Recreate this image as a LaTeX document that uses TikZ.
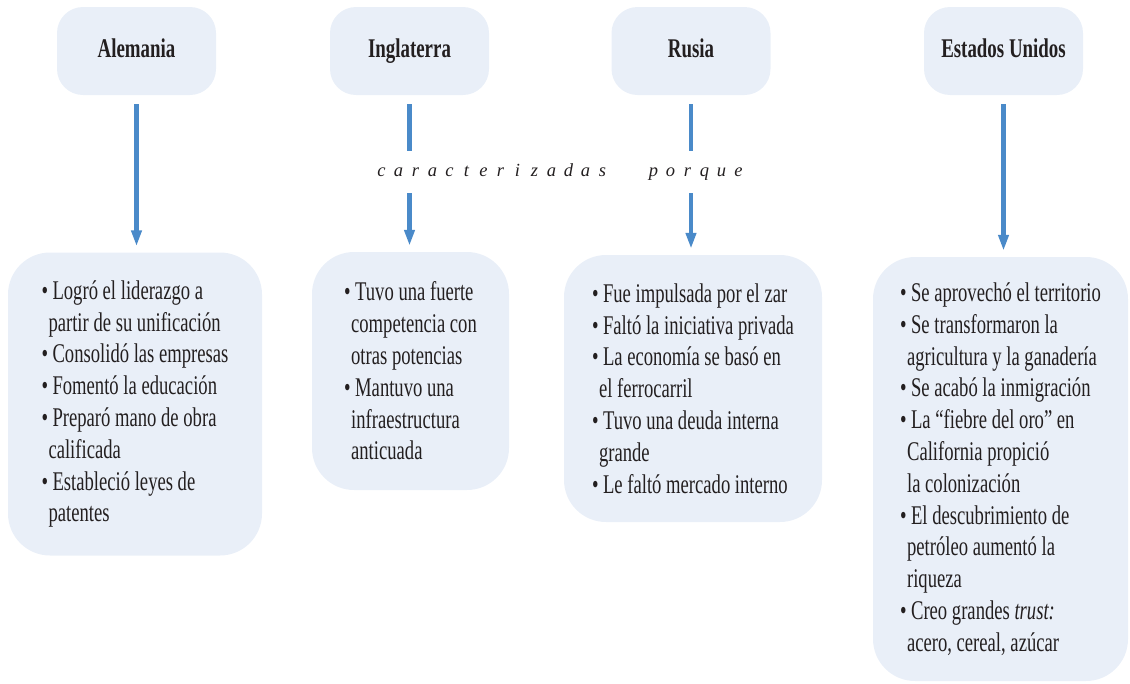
\documentclass[tikz,border=0pt]{standalone}
\usepackage{fontspec}
\setmainfont{Liberation Serif}
\newfontfamily\bodyfont[FakeStretch=0.69]{Liberation Serif}
\newfontfamily\headfont[FakeStretch=0.70]{Liberation Serif}
\usetikzlibrary{arrows.meta}
\definecolor{boxfill}{RGB}{233,239,248}
\definecolor{arrowblue}{RGB}{74,138,201}
\definecolor{txtcol}{RGB}{35,31,32}
\newcommand\spreadletters[1]{\spreadaux#1\relax}
\def\spreadaux#1{\ifx\relax#1\else\makebox[17pt]{#1}\expandafter\spreadaux\fi}
\newcommand\bul{\textbullet\,}
\newcommand\cont{\hspace*{7pt}}
\begin{document}
\begin{tikzpicture}[x=1pt,y=-1pt,
  head/.style={fill=boxfill, rounded corners=26pt, minimum width=159pt, minimum height=88pt, inner sep=0pt, text=txtcol, text height=18pt, text depth=6pt, font=\headfont\fontsize{27pt}{30pt}\selectfont\bfseries},
  body/.style={fill=boxfill, rounded corners=42pt, inner sep=0pt, align=left, text=txtcol, font=\bodyfont\fontsize{27pt}{31.8pt}\selectfont},
  conn/.style={draw=arrowblue, line width=4.3pt, -{Triangle[length=16pt,width=10pt]}, shorten <=9pt, shorten >=6pt},
  seg/.style={draw=arrowblue, line width=4.3pt},
  lbl/.style={text=txtcol, font=\fontsize{18.5pt}{20pt}\selectfont\itshape, inner xsep=0pt, inner ysep=13pt, text height=12pt, text depth=4pt}
]
\useasboundingbox (0,0) rectangle (1130,683);

% top boxes
\node[head] (ale) at (136.5,51) {Alemania};
\node[head] (ing) at (409.5,51) {Inglaterra};
\node[head] (rus) at (691,51) {Rusia};
\node[head] (eu)  at (1003.5,51) {Estados Unidos};

% bottom boxes
\node[body, minimum width=254pt, minimum height=303pt] (aleb) at (135,404) {%
\bul Logró el liderazgo a\\
\cont partir de su unificación\\
\bul Consolidó las empresas\\
\bul Fomentó la educación\\
\bul Preparó mano de obra\\
\cont calificada\\
\bul Estableció leyes de\\
\cont patentes};

\node[body, minimum width=197pt, minimum height=238pt] (ingb) at (410.5,371) {%
\bul Tuvo una fuerte\\
\cont competencia con\\
\cont otras potencias\\
\bul Mantuvo una\\
\cont infraestructura\\
\cont anticuada};

\node[body, minimum width=258pt, minimum height=267pt] (rusb) at (693,388.5) {%
\bul Fue impulsada por el zar\\
\bul Faltó la iniciativa privada\\
\bul La economía se basó en\\
\cont el ferrocarril\\
\bul Tuvo una deuda interna\\
\cont grande\\
\bul Le faltó mercado interno};

\node[body, minimum width=255pt, minimum height=424pt] (eub) at (1000.5,469) {%
\bul Se aprovechó el territorio\\
\bul Se transformaron la\\
\cont agricultura y la ganadería\\
\bul Se acabó la inmigración\\
\bul La “fiebre del oro” en\\
\cont California propició\\
\cont la colonización\\
\bul El descubrimiento de\\
\cont petróleo aumentó la\\
\cont riqueza\\
\bul Creo grandes \textit{trust:}\\
\cont acero, cereal, azúcar};

% label
\node[lbl] (lab) at (560,172) {\spreadletters{caracterizadas}\hspace{34pt}\spreadletters{porque}};

% connectors
\draw[conn] (ale.south) -- (ale.south |- aleb.north);
\draw[conn] (eu.south) -- (eu.south |- eub.north);
\draw[seg, shorten <=9pt] (ing.south) -- (ing.south |- lab.north);
\draw[conn, shorten <=0pt] (ing.south |- lab.south) -- (ing.south |- ingb.north);
\draw[seg, shorten <=9pt] (rus.south) -- (rus.south |- lab.north);
\draw[conn, shorten <=0pt] (rus.south |- lab.south) -- (rus.south |- rusb.north);
\end{tikzpicture}
\end{document}
